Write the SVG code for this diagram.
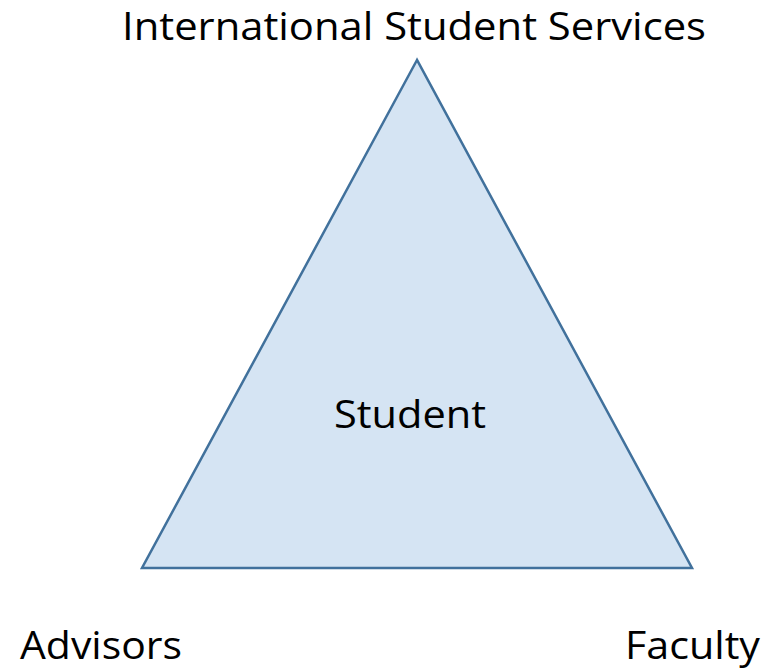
<svg xmlns="http://www.w3.org/2000/svg" width="769" height="670" viewBox="0 0 769 670">
<style>
.lbl{font-family:"Open Sans","Liberation Sans",sans-serif;font-size:38px;fill:#000;}
</style>
<rect width="769" height="670" fill="#fff"/>
<g id="triangle">
<polygon points="417,60 142,568 692,568" fill="#D5E4F3" stroke="#41719C" stroke-width="2.5" stroke-linejoin="miter"/>
<text class="lbl" x="334" y="428" textLength="152" lengthAdjust="spacingAndGlyphs">Student</text>
</g>
<g id="iss"><text class="lbl" x="122" y="40" textLength="584" lengthAdjust="spacingAndGlyphs">International Student Services</text></g>
<g id="advisors"><text class="lbl" x="20" y="659" textLength="162" lengthAdjust="spacingAndGlyphs">Advisors</text></g>
<g id="faculty"><text class="lbl" x="625" y="659" textLength="135" lengthAdjust="spacingAndGlyphs">Faculty</text></g>
<g id="connectors"></g>
</svg>
